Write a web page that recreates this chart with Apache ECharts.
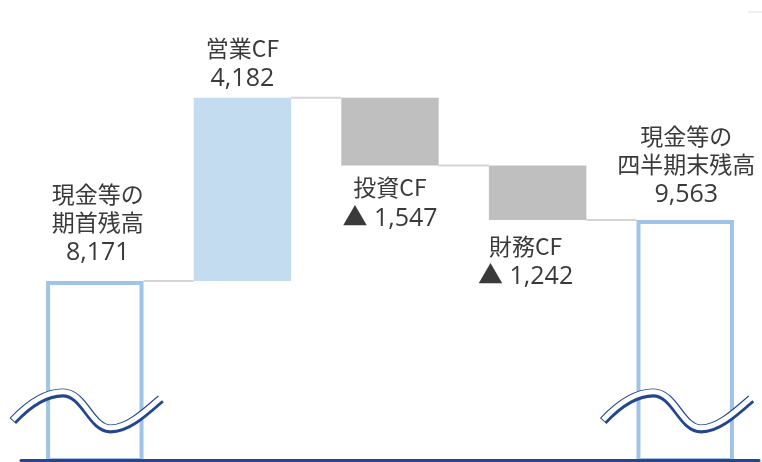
<!DOCTYPE html>
<html>
<head>
<meta charset="utf-8">
<script src="https://cdn.jsdelivr.net/npm/echarts@6/dist/echarts.min.js"></script>
<style>
  html, body { margin: 0; padding: 0; background: #fff; }
  #chart { width: 762px; height: 462px; }
</style>
</head>
<body>
<div id="chart"></div>
<script>
// データ
const categories = ["期首残高", "営業CF", "投資CF", "財務CF", "四半期末残高"];
const openingBalance = 8171;
const flows = [4182, -1547, -1242]; // 営業, 投資, 財務
const closingBalance = 9563;
const labelNames = [["現金等の", "期首残高"], ["営業CF"], ["投資CF"], ["財務CF"], ["現金等の", "四半期末残高"]];
const labelValues = ["8,171", "4,182", "▲ 1,547", "▲ 1,242", "9,563"];

// 見た目
const outlineColor = "#9fc4e7";
const plusColor = "#c4dcf0";
const minusColor = "#bfbfbf";
const navy = "#23468f";
const labelLayout = [
  { position: "top", distance: 11, offset: [3, 0] },
  { position: "top", distance: 2, offset: [0, 0] },
  { position: "bottom", distance: 8, offset: [0, 0] },
  { position: "bottom", distance: 12, offset: [-12, 0] },
  { position: "top", distance: 8, offset: [1, 0] },
];

// 滝グラフ用に土台と増減を計算
let running = openingBalance;
const baseData = [0];
const barData = [openingBalance];
flows.forEach((f) => {
  if (f >= 0) {
    baseData.push(running);
    barData.push(f);
    running += f;
  } else {
    running += f;
    baseData.push(running);
    barData.push(-f);
  }
});
baseData.push(0);
barData.push(closingBalance);

// 接続線の高さ（各バーの終点）
const connectorLevels = [openingBalance];
let lv = openingBalance;
flows.forEach((f) => {
  lv += f;
  connectorLevels.push(lv);
});

const waveLevel = 5200;

const chart = echarts.init(document.getElementById("chart"));

const visibleData = barData.map((v, i) => {
  const isTotal = i === 0 || i === barData.length - 1;
  const isPlus = !isTotal && flows[i - 1] >= 0;
  const names = labelNames[i].map((n) => "{n|" + n + "}").join("\n");
  return {
    value: v,
    itemStyle: isTotal
      ? { color: "#fff", borderColor: outlineColor, borderWidth: 4 }
      : { color: isPlus ? plusColor : minusColor },
    label: {
      show: true,
      position: labelLayout[i].position,
      distance: labelLayout[i].distance,
      offset: labelLayout[i].offset,
      formatter: names + "\n{v|" + labelValues[i] + "}",
    },
  };
});

chart.setOption({
  animation: false,
  grid: { left: 21, right: 3, top: 10, bottom: 2 },
  xAxis: {
    type: "category",
    data: categories,
    z: 10,
    axisLine: { show: true, lineStyle: { color: navy, width: 3 } },
    axisTick: { show: false },
    axisLabel: { show: false },
  },
  yAxis: {
    type: "value",
    min: 4080,
    max: 14360,
    show: false,
    splitLine: { show: false },
  },
  graphic: [
    {
      type: "line",
      shape: { x1: 748, y1: 12, x2: 762, y2: 12 },
      style: { stroke: "#e2e2e2", lineWidth: 1 },
    },
  ],
  series: [
    {
      name: "base",
      type: "bar",
      stack: "wf",
      barWidth: "66%",
      itemStyle: { color: "transparent" },
      data: baseData,
    },
    {
      name: "value",
      type: "bar",
      stack: "wf",
      barWidth: "66%",
      label: {
        color: "#3a3a3a",
        fontFamily: "Noto Sans CJK JP",
        rich: {
          n: { fontSize: 23, lineHeight: 28, color: "#3a3a3a", fontFamily: "Noto Sans CJK JP" },
          v: { fontSize: 25, lineHeight: 34, color: "#3a3a3a", fontFamily: "Open Sans, Noto Sans CJK JP" },
        },
      },
      data: visibleData,
    },
    {
      name: "connector",
      type: "custom",
      z: 1,
      data: connectorLevels.map((v, i) => [i, v]),
      renderItem: (params, api) => {
        const i = api.value(0);
        const v = api.value(1);
        const half = api.size([1, 0])[0] * 0.33;
        const p1 = api.coord([i, v]);
        const p2 = api.coord([i + 1, v]);
        return {
          type: "line",
          shape: { x1: p1[0] + half, y1: p1[1], x2: p2[0] - half, y2: p2[1] },
          style: { stroke: "#d4d4d4", lineWidth: 2 },
        };
      },
    },
    {
      name: "wave",
      type: "custom",
      z: 5,
      clip: false,
      data: [[0, waveLevel], [categories.length - 1, waveLevel]],
      renderItem: (params, api) => {
        const c = api.coord([api.value(0), api.value(1)]);
        const pathData = "M0,28 C15,12 32,0 50,0 C72,0 78,36 98,36 C115,36 132,20 148,6";
        const rect = { x: c[0] - 82, y: c[1] - 18, width: 148, height: 36 };
        return {
          type: "group",
          children: [
            {
              type: "path",
              shape: Object.assign({ pathData: pathData, layout: "cover" }, rect),
              style: { fill: null, stroke: navy, lineWidth: 9, lineCap: "butt" },
            },
            {
              type: "path",
              shape: Object.assign({ pathData: pathData, layout: "cover" }, rect, { y: rect.y - 1.2 }),
              style: { fill: null, stroke: "#fff", lineWidth: 5, lineCap: "butt" },
            },
          ],
        };
      },
    },
  ],
});
</script>
</body>
</html>
